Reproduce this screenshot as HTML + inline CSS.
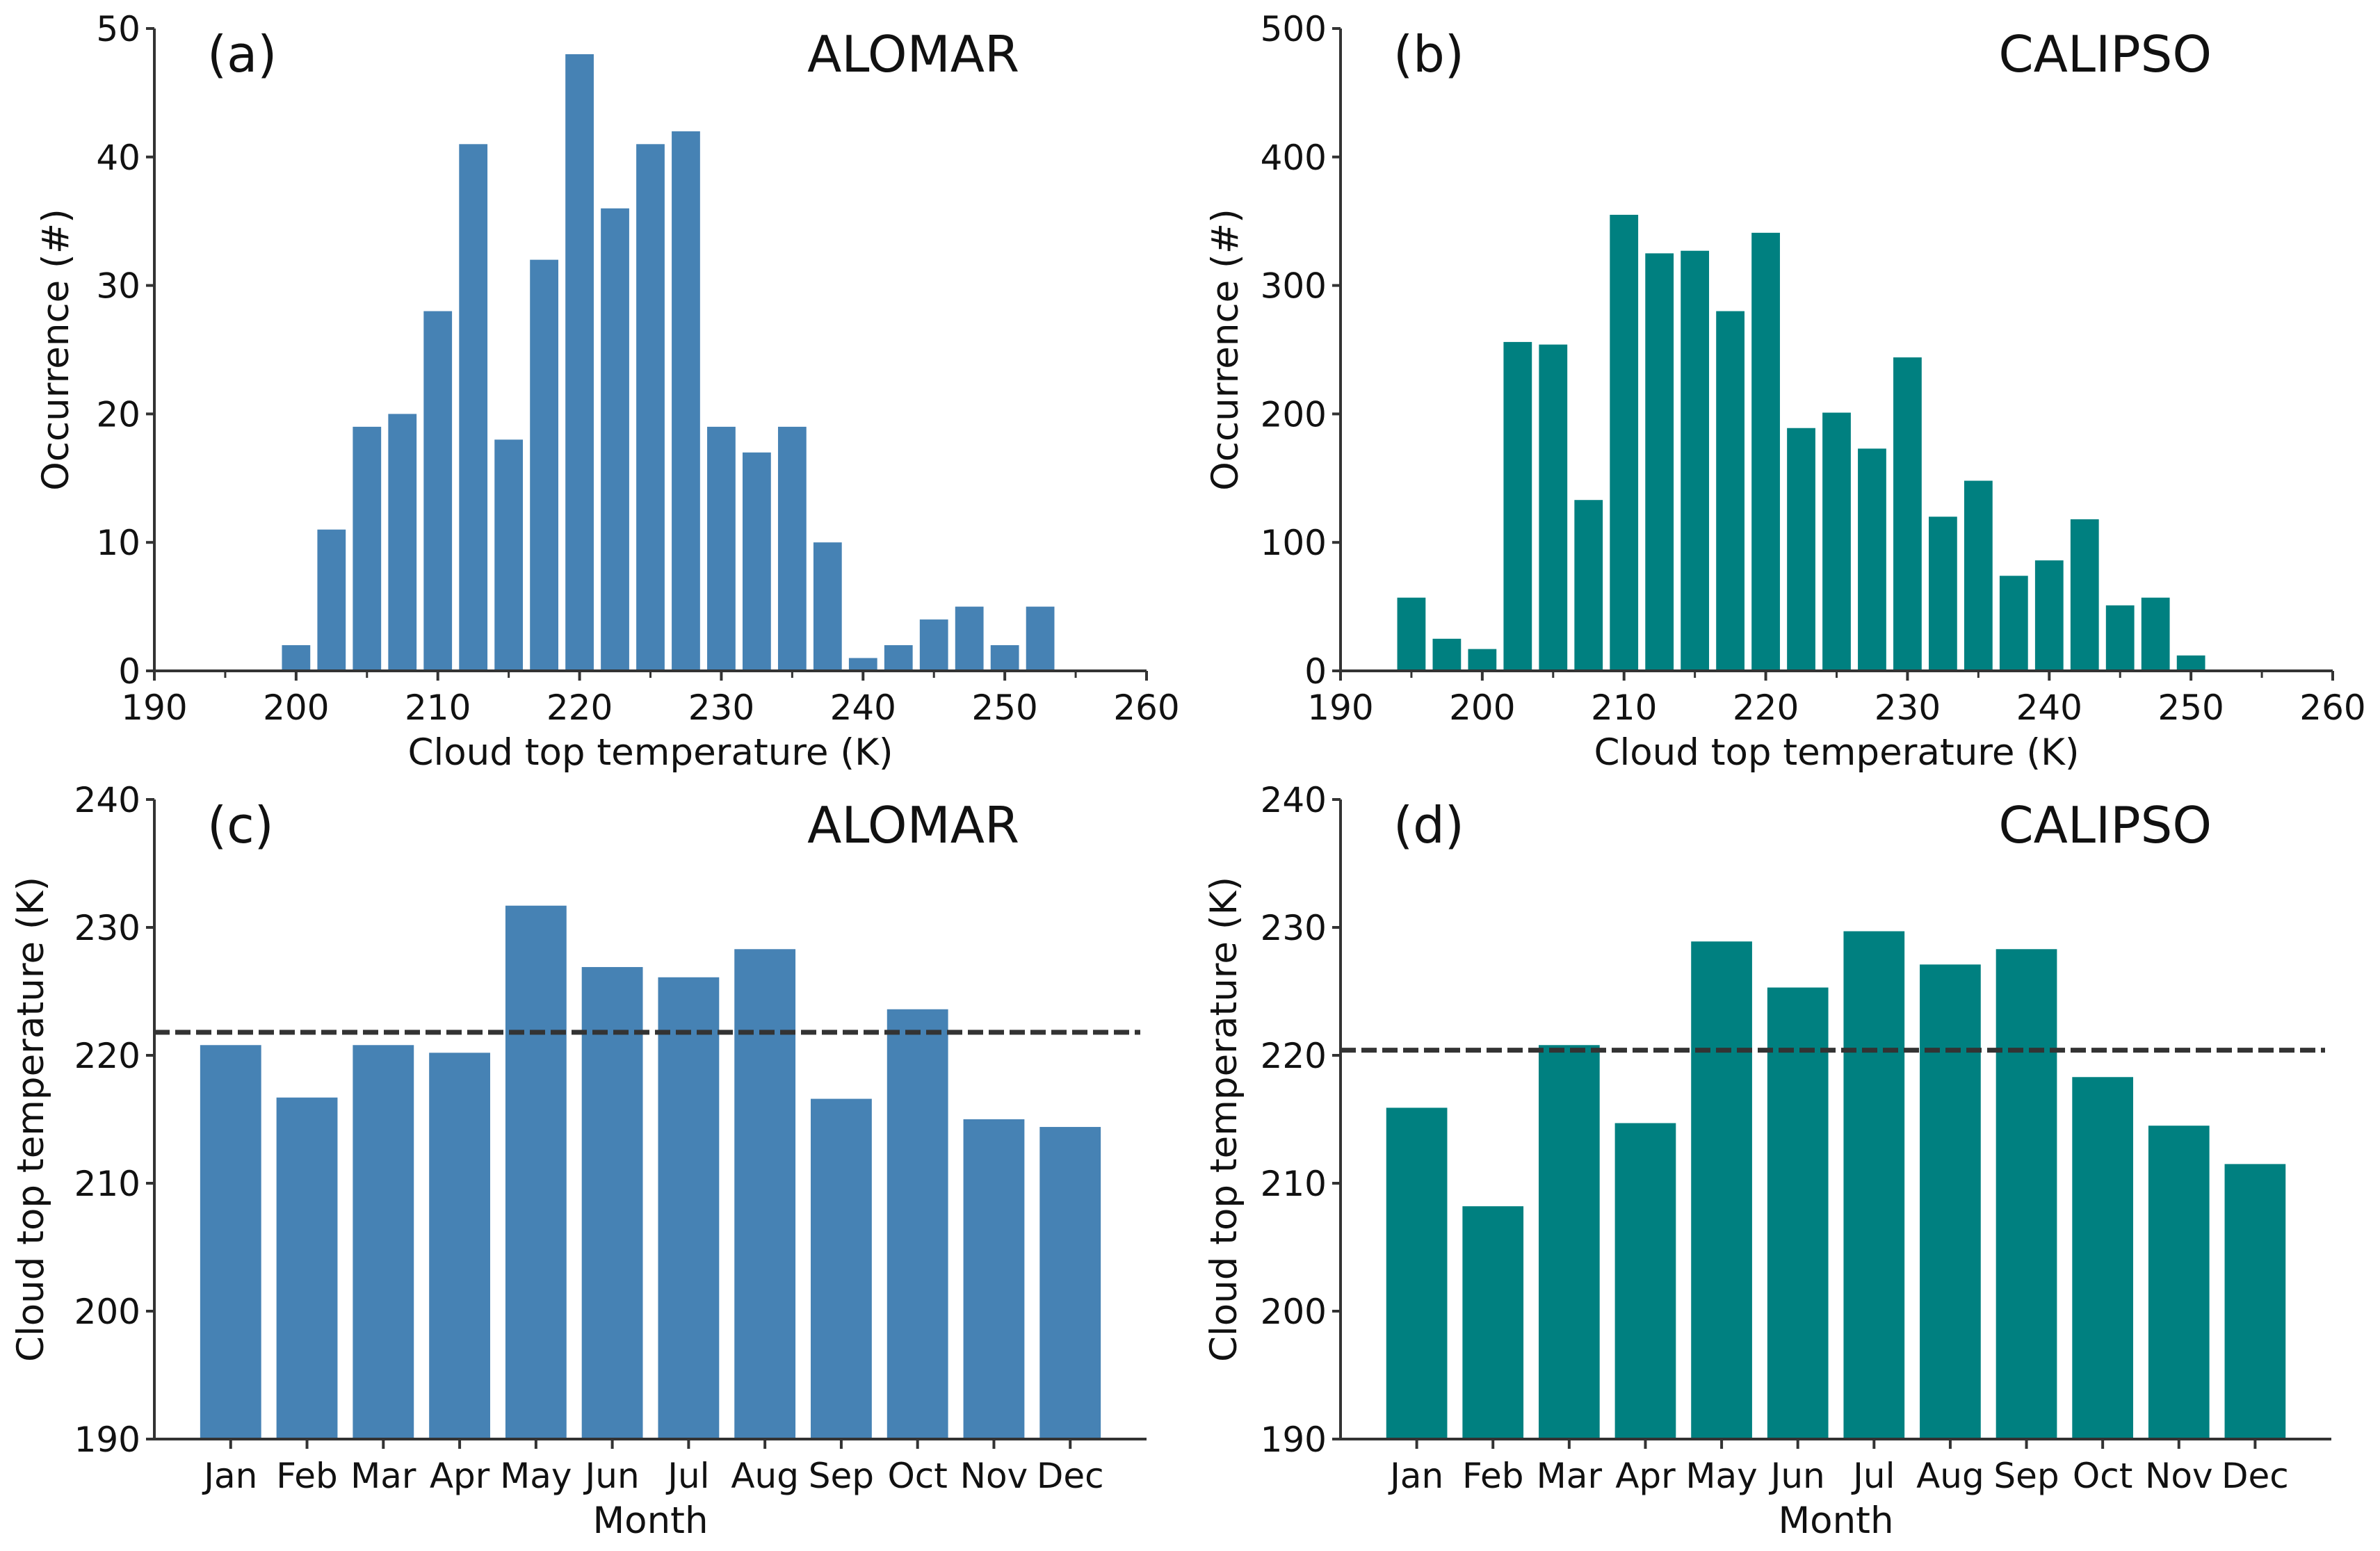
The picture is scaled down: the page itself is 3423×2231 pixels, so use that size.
<!DOCTYPE html>
<html><head><meta charset="utf-8"><style>
html,body{margin:0;padding:0;background:#fff;}
svg{display:block;font-family:"DejaVu Sans","Liberation Sans",sans-serif;}
</style></head><body>
<svg id="fig" width="3423" height="2231" viewBox="0 0 3423 2231" xmlns="http://www.w3.org/2000/svg"></svg>
<script>
// ---- data ----
const histBinsA = [200,202.5,205,207.5,210,212.5,215,217.5,220,222.5,225,227.5,230,232.5,235,237.5,240,242.5,245,247.5,250,252.5];
const histCountsA = [2,11,19,20,28,41,18,32,48,36,41,42,19,17,19,10,1,2,4,5,2,5];
const histBinsB = [195,197.5,200,202.5,205,207.5,210,212.5,215,217.5,220,222.5,225,227.5,230,232.5,235,237.5,240,242.5,245,247.5,250];
const histCountsB = [57,25,17,256,254,133,355,325,327,280,341,189,201,173,244,120,148,74,86,118,51,57,12];
const months = ["Jan","Feb","Mar","Apr","May","Jun","Jul","Aug","Sep","Oct","Nov","Dec"];
const monthlyA = [220.8,216.7,220.8,220.2,231.7,226.9,226.1,228.3,216.6,223.6,215.0,214.4];
const monthlyB = [215.9,208.2,220.8,214.7,228.9,225.3,229.7,227.1,228.3,218.3,214.5,211.5];
const meanA = 221.8;
const meanB = 220.4;
const xTicksHist = [190,200,210,220,230,240,250,260];
const xMinorHist = [195,205,215,225,235,245,255];
const yTicksA = [0,10,20,30,40,50];
const yTicksB = [0,100,200,300,400,500];
const yTicksMonth = [190,200,210,220,230,240];

const svg = document.getElementById('fig');
const NS = 'http://www.w3.org/2000/svg';
function mk(tag, attrs, parent){const e=document.createElementNS(NS,tag);for(const k in attrs)e.setAttribute(k,attrs[k]);(parent||svg).appendChild(e);return e;}
function txt(s, attrs, parent){const e=mk('text',attrs,parent);e.textContent=s;return e;}

function panel(cfg){
  const g = mk('g',{});
  
  
  const {x0,x1,y0,y1,xmin,xmax,ymin,ymax} = cfg;
  const sx = v => x0 + (v-xmin)/(xmax-xmin)*(x1-x0);
  const sy = v => y1 - (v-ymin)/(ymax-ymin)*(y1-y0);
  cfg.xs.forEach((xv,i)=>{
    const w = cfg.bw*(x1-x0)/(xmax-xmin);
    const r = mk('rect',{x:sx(xv)-w/2,y:sy(cfg.ys[i]),width:w,height:sy(ymin)-sy(cfg.ys[i]),fill:cfg.color},g);
    
    
  });
  if(cfg.mean!==undefined){
    const l = mk('line',{x1:x0,x2:x1-9,y1:sy(cfg.mean),y2:sy(cfg.mean),stroke:'#333',"stroke-width":7,"stroke-dasharray":"22 8"},g);
    
    
  }
  const sp = mk('path',{d:`M${x0} ${y0}V${y1}H${x1}`,stroke:'#333',"stroke-width":4,fill:'none'},g);
  
  
  cfg.yticks.forEach(v=>{
    mk('line',{x1:x0-12,x2:x0,y1:sy(v),y2:sy(v),stroke:'#333',"stroke-width":4},g);
    const t = txt(String(v),{x:x0-20,y:sy(v)+18,"text-anchor":"end","font-size":50,fill:'#111'},g);
    
    
  });
  cfg.xticks.forEach((v,i)=>{
    mk('line',{x1:sx(v),x2:sx(v),y1:y1,y2:y1+14,stroke:'#333',"stroke-width":4},g);
    const t = txt(cfg.xlabels?cfg.xlabels[i]:String(v),{x:sx(v),y:y1+70,"text-anchor":"middle","font-size":50,fill:'#111'},g);
    
    
  });
  (cfg.xminor||[]).forEach(v=>{
    mk('line',{x1:sx(v),x2:sx(v),y1:y1,y2:y1+10,stroke:'#333',"stroke-width":3},g);
  });
  const xt = txt(cfg.xtitle,{x:(x0+x1)/2,y:y1+135,"text-anchor":"middle","font-size":53,fill:'#111'},g);
  
  
  const yx = cfg.ylx, yy=(y0+y1)/2;
  const yt = txt(cfg.ytitle,{x:yx,y:yy,"text-anchor":"middle","font-size":53,fill:'#111',transform:`rotate(-90 ${yx} ${yy})`},g);
  
  
  const pl = txt(cfg.letter,{x:x0+76,y:y0+62,"font-size":72,fill:'#111'},g);
  
  
  const st = txt(cfg.station,{x:cfg.stx,y:y0+62,"text-anchor":"end","font-size":72,fill:'#111'},g);
  
  
}

const mIdx = months.map((m,i)=>i);
panel({name:'panel-a',x0:222,x1:1649,y0:41,y1:965,xmin:190,xmax:260,ymin:0,ymax:50,xs:histBinsA,ys:histCountsA,bw:2,color:'#4682b4',
  yticks:yTicksA,xticks:xTicksHist,xminor:xMinorHist,xtitle:'Cloud top temperature (K)',ytitle:'Occurrence (#)',ylx:98,letter:'(a)',station:'ALOMAR',stx:1466});
panel({name:'panel-b',x0:1928,x1:3355,y0:41,y1:965,xmin:190,xmax:260,ymin:0,ymax:500,xs:histBinsB,ys:histCountsB,bw:2,color:'#008080',
  yticks:yTicksB,xticks:xTicksHist,xminor:xMinorHist,xtitle:'Cloud top temperature (K)',ytitle:'Occurrence (#)',ylx:1780,letter:'(b)',station:'CALIPSO',stx:3181});
panel({name:'panel-c',x0:222,x1:1649,y0:1150,y1:2070,xmin:-1,xmax:12,ymin:190,ymax:240,xs:mIdx,ys:monthlyA,bw:0.8,color:'#4682b4',mean:meanA,
  yticks:yTicksMonth,xticks:mIdx,xlabels:months,xtitle:'Month',ytitle:'Cloud top temperature (K)',ylx:62,letter:'(c)',station:'ALOMAR',stx:1466});
panel({name:'panel-d',x0:1928,x1:3353,y0:1150,y1:2070,xmin:-1,xmax:12,ymin:190,ymax:240,xs:mIdx,ys:monthlyB,bw:0.8,color:'#008080',mean:meanB,
  yticks:yTicksMonth,xticks:mIdx,xlabels:months,xtitle:'Month',ytitle:'Cloud top temperature (K)',ylx:1778,letter:'(d)',station:'CALIPSO',stx:3181});
</script>
</body></html>
